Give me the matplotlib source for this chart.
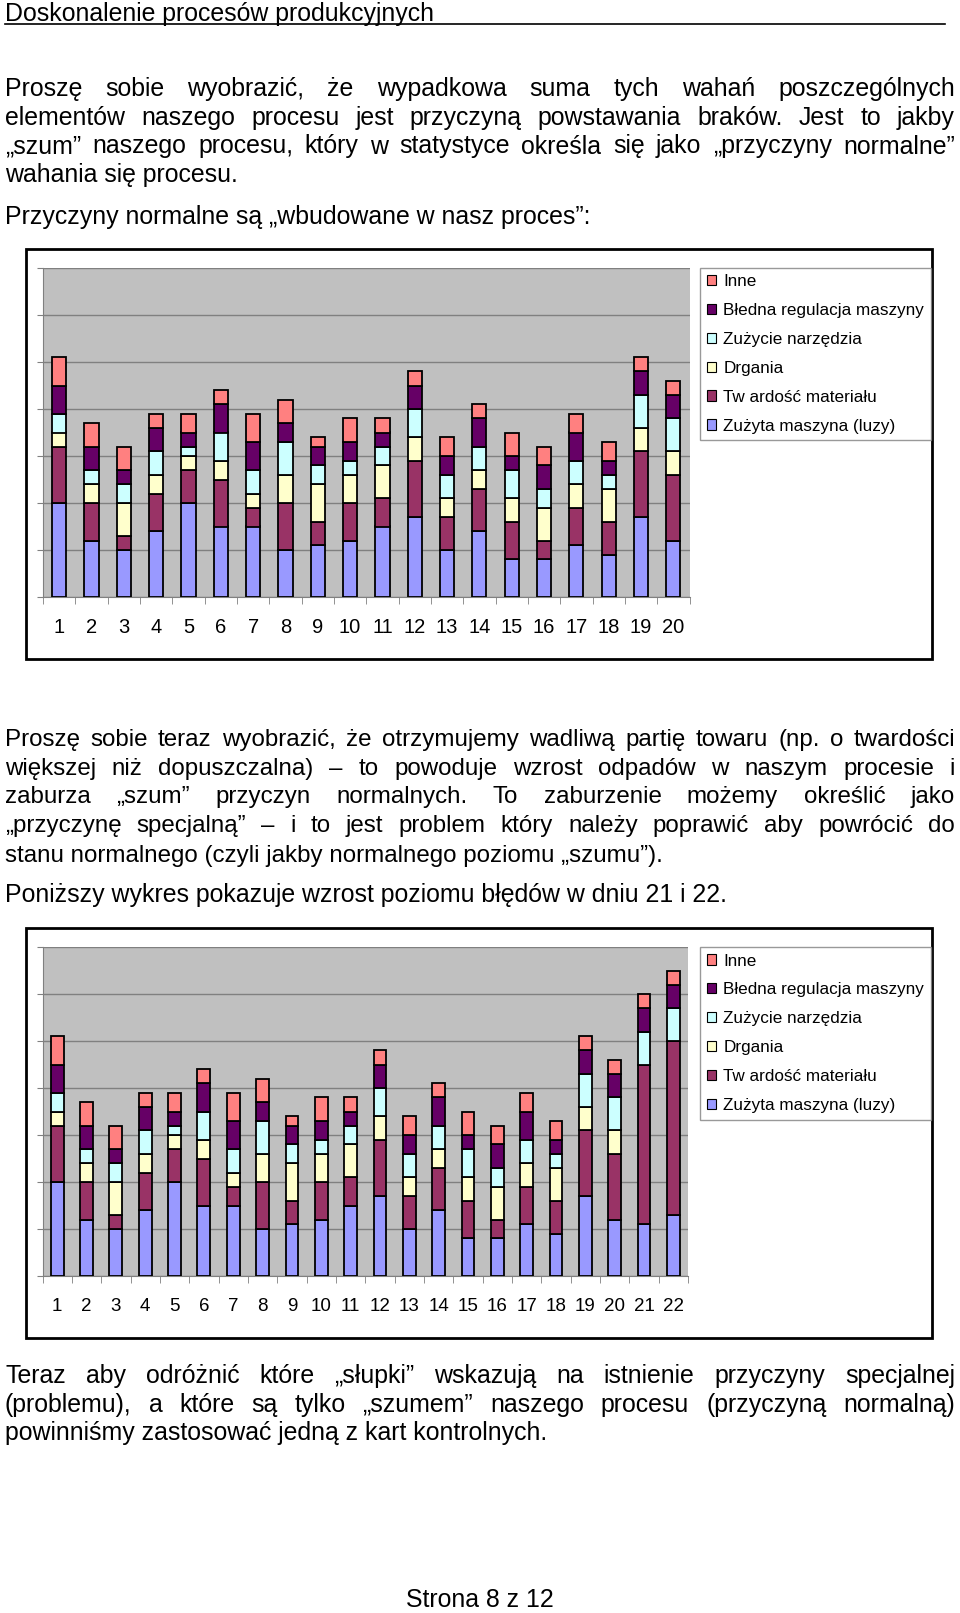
import matplotlib
matplotlib.use('Agg')
import matplotlib.pyplot as plt
import numpy as np
from matplotlib.patches import Rectangle, Patch
from matplotlib.lines import Line2D

# ---------------- data ----------------
series_names = ['Zużyta maszyna (luzy)', 'Tw ardość materiału', 'Drgania',
                'Zużycie narzędzia', 'Błedna regulacja maszyny', 'Inne']
colors = ['#9999FF', '#993366', '#FFFFCC', '#CCFFFF', '#660066', '#FF8080']

days1 = list(range(1, 21))
luzy1 = [20, 12, 10, 14, 20, 15, 15, 10, 11, 12, 15, 17, 10, 14, 8, 8, 11, 9, 17, 12]
twardosc1 = [12, 8, 3, 8, 7, 10, 4, 10, 5, 8, 6, 12, 7, 9, 8, 4, 8, 7, 14, 14]
drgania1 = [3, 4, 7, 4, 3, 4, 3, 6, 8, 6, 7, 5, 4, 4, 5, 7, 5, 7, 5, 5]
narzedzie1 = [4, 3, 4, 5, 2, 6, 5, 7, 4, 3, 4, 6, 5, 5, 6, 4, 5, 3, 7, 7]
regulacja1 = [6, 5, 3, 5, 3, 6, 6, 4, 4, 4, 3, 5, 4, 6, 3, 5, 6, 3, 5, 5]
inne1 = [6, 5, 5, 3, 4, 3, 6, 5, 2, 5, 3, 3, 4, 3, 5, 4, 4, 4, 3, 3]

days2 = list(range(1, 23))
luzy2 = luzy1 + [11, 13]
twardosc2 = twardosc1 + [34, 37]
drgania2 = drgania1 + [0, 0]
narzedzie2 = narzedzie1 + [7, 7]
regulacja2 = regulacja1 + [5, 5]
inne2 = inne1 + [3, 3]

y_ticks = [0, 10, 20, 30, 40, 50, 60, 70]

# ---------------- figure ----------------
W, H = 960, 1613
fig = plt.figure(figsize=(9.6, 16.13), dpi=100)
fig.patch.set_facecolor('white')
plt.rcParams['font.family'] = ['Liberation Sans', 'DejaVu Sans']
renderer = fig.canvas.get_renderer()


def fx(x):
    return x / W


def fy(y):
    return 1 - y / H


def text_width(s, fs):
    t = fig.text(0, 0, s, fontsize=fs)
    w = t.get_window_extent(renderer).width
    t.remove()
    return w


def put_line(s, y_base, fs, x0=5.0, x1=None, ha='left'):
    words = s.split(' ')
    if x1 is None or len(words) == 1:
        fig.text(fx(x0), fy(y_base), s, fontsize=fs, va='baseline', ha=ha)
        return
    widths = [text_width(w, fs) for w in words]
    gap = (x1 - x0 - sum(widths)) / (len(words) - 1)
    x = x0
    for w, wd in zip(words, widths):
        fig.text(fx(x), fy(y_base), w, fontsize=fs, va='baseline', ha='left')
        x += wd + gap


FS = 17.9
RIGHT = 955

# header
fig.text(fx(5), fy(20.5), 'Doskonalenie procesów produkcyjnych', fontsize=FS,
         va='baseline', ha='left')
fig.add_artist(Line2D([fx(5), fx(945)], [fy(23.5), fy(23.5)], color='black', lw=1.2))

# paragraph 1
put_line('Proszę sobie wyobrazić, że wypadkowa suma tych wahań poszczególnych', 96, FS, x1=RIGHT)
put_line('elementów naszego procesu jest przyczyną powstawania braków. Jest to jakby', 125, FS, x1=RIGHT)
put_line('„szum” naszego procesu, który w statystyce określa się jako „przyczyny normalne”', 153.5, FS, x1=RIGHT)
put_line('wahania się procesu.', 182, FS)
put_line('Przyczyny normalne są „wbudowane w nasz proces”:', 224, FS)

# paragraph 2
FS2 = 17.9 * 657 / text_width('stanu normalnego (czyli jakby normalnego poziomu „szumu”).', 17.9)
put_line('Proszę sobie teraz wyobrazić, że otrzymujemy wadliwą partię towaru (np. o twardości', 746, FS2, x1=RIGHT)
put_line('większej niż dopuszczalna) – to powoduje wzrost odpadów w naszym procesie i', 774.6, FS2, x1=RIGHT)
put_line('zaburza „szum” przyczyn normalnych. To zaburzenie możemy określić jako', 803, FS2, x1=RIGHT)
put_line('„przyczynę specjalną” – i to jest problem który należy poprawić aby powrócić do', 832, FS2, x1=RIGHT)
put_line('stanu normalnego (czyli jakby normalnego poziomu „szumu”).', 862, FS2)
put_line('Poniższy wykres pokazuje wzrost poziomu błędów w dniu 21 i 22.', 902, FS)

# paragraph 3
put_line('Teraz aby odróżnić które „słupki” wskazują na istnienie przyczyny specjalnej', 1383, FS, x1=RIGHT)
put_line('(problemu), a które są tylko „szumem” naszego procesu (przyczyną normalną)', 1411.6, FS, x1=RIGHT)
put_line('powinniśmy zastosować jedną z kart kontrolnych.', 1440, FS)

# footer
fig.text(fx(480), fy(1607), 'Strona 8 z 12', fontsize=FS, va='baseline', ha='center')


def draw_chart(days, series, plot_px, frame_px, legend_xy, label_fs, label_pad):
    l, r, t, b = plot_px
    fl, fr, ft, fb = frame_px
    fig.add_artist(Rectangle((fx(fl), fy(fb)), (fr - fl) / W, (fb - ft) / H,
                             transform=fig.transFigure, facecolor='white',
                             edgecolor='black', lw=2, zorder=0))
    ax = fig.add_axes([fx(l), fy(b), (r - l) / W, (b - t) / H])
    ax.set_facecolor('#C0C0C0')
    x = np.array(days)
    bottom = np.zeros(len(days))
    handles = []
    for name, vals, col in zip(series_names, series, colors):
        v = np.array(vals, dtype=float)
        ax.bar(x, v, bottom=bottom, width=0.44, color=col, edgecolor='black',
               linewidth=1.3, zorder=3)
        bottom += v
        handles.append(Patch(facecolor=col, edgecolor='black', lw=0.8, label=name))
    ax.set_xlim(0.5, len(days) + 0.5)
    ax.set_ylim(0, 70)
    ax.set_yticks(y_ticks)
    ax.yaxis.grid(True, color='#808080', lw=1)
    ax.set_axisbelow(True)
    ax.tick_params(axis='y', length=4, color='#808080', labelleft=False)
    ax.set_xticks(days)
    ax.set_xticklabels([str(d) for d in days], fontsize=label_fs)
    ax.set_xticks(np.arange(0.5, len(days) + 1, 1), minor=True)
    ax.tick_params(axis='x', which='major', length=0, pad=label_pad)
    ax.tick_params(axis='x', which='minor', length=5, color='#808080')
    for s in ['top', 'right']:
        ax.spines[s].set_visible(False)
    for s in ['left', 'bottom']:
        ax.spines[s].set_color('#808080')
    leg = ax.legend(handles=handles[::-1], loc='upper left',
                    bbox_to_anchor=(fx(legend_xy[0]), fy(legend_xy[1])),
                    bbox_transform=fig.transFigure, borderaxespad=0,
                    fontsize=12.3, frameon=True, fancybox=False,
                    handlelength=0.55, handleheight=0.55, handletextpad=0.41,
                    labelspacing=0.81, borderpad=0.4)
    leg.get_frame().set_edgecolor('#808080')
    leg.get_frame().set_linewidth(1)
    return ax


draw_chart(days1, [luzy1, twardosc1, drgania1, narzedzie1, regulacja1, inne1],
           (43, 689.5, 268, 597), (26, 932, 249, 658.6), (700, 267.5), 14.5, 15.4)
draw_chart(days2, [luzy2, twardosc2, drgania2, narzedzie2, regulacja2, inne2],
           (42.6, 688, 947, 1276), (26, 932, 928, 1338), (700, 946.7), 13.5, 16)

fig.savefig('out.png', dpi=100, facecolor='white')
